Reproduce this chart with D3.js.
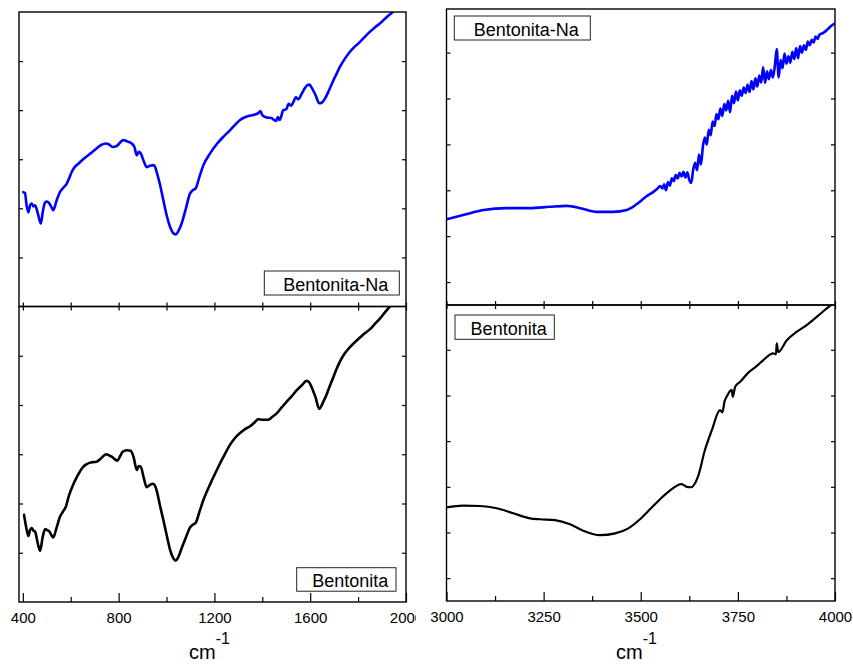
<!DOCTYPE html>
<html><head><meta charset="utf-8">
<script src="https://cdn.jsdelivr.net/npm/d3@7"></script>
<style>body{margin:0;background:#fff}svg{display:block;font-family:"Liberation Sans",Arial,sans-serif}</style>
</head><body><svg id="c" width="853" height="664"></svg>
<script>
// ---------- DATA ----------
const lowMajorTicks = [400, 800, 1200, 1600, 2000];
const lowMinorTicks = [600, 1000, 1400, 1800];
const highMajorTicks = [3000, 3250, 3500, 3750, 4000];
const highMinorTicks = [3125, 3375, 3625, 3875];
const lowYTicks = [10, 20, 30, 40, 50];
const highYTicks = [5, 15, 25, 35, 45, 55];
const seriesNames = ["Bentonita-Na", "Bentonita"];

// Bentonita-Na, 400-2000 cm-1
const naLowX = [402,409,416,423,430,437,444,451,463,475,484,493,501,509,518,527,541,555,569,583,594,604,618,632,652,673,690,708,727,747,760,775,792,806,820,838,855,866,876,884,892,905,917,931,945,952,959,973,987,1001,1015,1027,1038,1050,1063,1080,1098,1110,1122,1138,1154,1182,1210,1238,1265,1286,1307,1325,1342,1362,1383,1392,1400,1418,1437,1457,1465,1472,1488,1500,1510,1520,1530,1540,1550,1565,1578,1588,1597,1606,1622,1638,1650,1662,1680,1697,1710,1724,1745,1766,1787,1808,1829,1850,1871,1892,1920,1947,1975,2000];
const naLowY = [23.3,23.1,20.5,19.2,20.6,21.0,20.4,20.6,18.9,16.9,19.5,21.2,21.4,21.1,20.4,19.6,21.6,23.3,24.2,25.0,26.2,27.4,28.5,29.1,30.0,30.8,31.5,32.2,32.9,33.2,33.0,32.5,32.7,33.4,33.9,33.6,33.2,32.5,30.8,31.5,31.2,29.6,28.4,28.7,28.8,28.5,27.4,24.8,21.6,18.5,16.2,15.0,14.7,15.4,16.9,19.8,23.0,23.7,24.1,26.5,28.8,31.2,33.1,34.6,35.9,37.0,38.0,38.5,38.8,39.0,39.4,39.8,39.0,38.5,38.4,37.8,38.6,38.0,40.0,40.2,41.3,40.9,41.7,42.6,42.2,43.4,44.5,45.1,45.2,44.6,43.1,41.4,41.6,42.4,44.2,46.1,47.4,48.8,50.5,51.9,53.0,53.9,55.0,56.0,56.9,57.7,59.0,60.1,61.4,62.6];

// Bentonita, 400-2000 cm-1
const bLowX = [405,414,423,430,437,444,451,462,472,483,493,502,511,519,527,541,555,567,580,592,604,628,653,667,681,694,708,727,747,771,795,806,817,834,850,862,876,884,892,905,917,931,945,952,959,973,987,1001,1015,1027,1038,1050,1063,1080,1098,1110,1122,1138,1154,1182,1210,1238,1265,1286,1307,1328,1349,1366,1383,1404,1425,1442,1460,1481,1502,1523,1544,1565,1585,1596,1606,1622,1638,1654,1669,1683,1697,1710,1724,1743,1763,1785,1808,1829,1850,1871,1892,1912,1933,1966,2000];
const bLowY = [17.7,15.2,13.4,14.6,15.0,14.5,14.3,12.0,10.4,13.2,14.8,14.6,14.3,13.6,13.1,15.1,17.3,18.3,19.4,21.5,23.1,25.6,27.5,28.0,28.3,28.4,28.5,29.2,30.0,29.5,28.7,29.6,30.5,30.8,30.7,29.5,26.8,27.6,27.5,25.2,23.3,23.8,24.0,23.6,22.6,19.5,16.6,13.5,10.6,9.0,8.4,9.2,10.9,13.0,15.1,15.7,16.1,18.4,20.7,23.9,26.8,29.5,31.9,33.3,34.3,35.1,35.7,36.4,37.1,37.0,37.0,37.6,38.3,39.5,40.7,41.8,43.0,44.0,44.9,44.6,43.6,41.6,39.2,40.6,42.2,44.0,45.7,47.3,48.8,50.4,51.6,52.7,53.7,54.6,55.4,56.5,57.6,58.8,60.0,61.9,63.8];

// Bentonita-Na, 3000-4000 cm-1
const naHighX = [3000,3043,3095,3155,3215,3266,3309,3344,3387,3429,3464,3490,3515,3530,3541,3550,3556,3560,3565,3570,3575,3580,3585,3590,3595,3600,3605,3610,3615,3620,3625,3630,3635,3640,3645,3650,3655,3660,3665,3670,3675,3680,3685,3690,3695,3700,3705,3710,3715,3720,3725,3730,3735,3740,3745,3750,3755,3760,3765,3770,3775,3780,3785,3790,3795,3800,3805,3810,3815,3820,3825,3830,3835,3840,3845,3850,3855,3860,3865,3870,3875,3880,3885,3890,3895,3900,3905,3910,3915,3920,3925,3930,3935,3940,3945,3950,3955,3960,3970,3980,3990,4000];
const naHighY = [18.7,19.6,20.7,21.1,21.1,21.4,21.6,21.1,20.3,20.3,20.7,22.0,23.7,24.5,25.2,25.9,25.4,26.3,25.0,26.8,26.0,27.6,27.0,28.3,27.6,28.8,28.0,29.0,27.8,28.9,27.2,26.6,29.5,31.0,29.4,32.8,30.6,34.6,36.5,35.0,38.2,37.0,40.0,39.0,41.6,40.5,42.8,41.2,43.8,42.4,44.5,42.0,45.6,44.0,46.5,44.6,46.8,45.6,47.4,46.2,48.0,46.4,48.8,47.0,49.4,47.6,50.0,48.5,51.8,48.4,50.9,49.2,51.2,49.6,52.0,55.8,49.6,53.4,51.6,54.8,52.6,54.2,52.8,55.2,53.6,56.0,53.8,56.4,55.0,56.6,55.6,57.4,56.6,57.8,57.2,58.5,58.0,58.9,59.3,60.0,60.8,61.4];

// Bentonita, 3000-4000 cm-1
const bHighX = [3000,3043,3086,3129,3172,3215,3241,3279,3318,3352,3395,3434,3468,3498,3532,3571,3605,3618,3629,3648,3665,3683,3704,3710,3716,3721,3734,3737,3743,3756,3777,3798,3815,3841,3848,3850,3854,3876,3901,3927,3953,3987,4000];
const bHighY = [20.5,20.9,20.8,20.3,19.2,18.1,17.9,17.7,16.8,15.4,14.4,14.8,15.9,17.9,20.8,23.9,25.6,25.0,24.9,27.4,33.0,37.4,41.8,41.3,43.8,44.7,46.2,44.7,46.9,48.0,50.0,51.4,52.7,54.2,54.0,56.4,54.5,57.1,58.9,60.4,62.2,64.6,65.4];

// ---------- LAYOUT ----------
const svg = d3.select("#c");
const BLUE = "#0000ff", BLACK = "#000";

const panels = [
  {id:"tl", x0:19, x1:406, y0:12, y1:306.5, xd:[384,2000], yd:[0,60], xs:naLowX, ys:naLowY, color:BLUE, lw:2.6,
   major:lowMajorTicks, minor:lowMinorTicks, yt:lowYTicks, bottom:false, legend:{name:seriesNames[0], x:264.3, y:271, w:135, h:24}},
  {id:"bl", x0:19, x1:406, y0:306.5, y1:602, xd:[384,2000], yd:[0,60], xs:bLowX, ys:bLowY, color:BLACK, lw:2.6,
   major:lowMajorTicks, minor:lowMinorTicks, yt:lowYTicks, bottom:true, legend:{name:seriesNames[1], x:296.7, y:567.7, w:99.3, h:23.5}},
  {id:"tr", x0:446.5, x1:835, y0:9, y1:305, xd:[3000,4000], yd:[0,64.5], xs:naHighX, ys:naHighY, color:BLUE, lw:2.6,
   major:highMajorTicks, minor:highMinorTicks, yt:highYTicks, bottom:false, legend:{name:seriesNames[0], x:454.3, y:16, w:136, h:24}},
  {id:"br", x0:446.5, x1:835, y0:305, y1:601, xd:[3000,4000], yd:[0,64.8], xs:bHighX, ys:bHighY, color:BLACK, lw:2.2,
   major:highMajorTicks, minor:highMinorTicks, yt:highYTicks, bottom:true, legend:{name:seriesNames[1], x:455, y:315, w:99.3, h:24.3}}
];

function drawPanel(p, g) {
  const x = d3.scaleLinear().domain(p.xd).range([p.x0, p.x1]);
  const y = d3.scaleLinear().domain(p.yd).range([p.y1, p.y0]);
  const clipId = "clip-" + p.id;
  svg.append("clipPath").attr("id", clipId).append("rect")
    .attr("x", p.x0).attr("y", p.y0).attr("width", p.x1 - p.x0).attr("height", p.y1 - p.y0);
  const data = p.xs.map((v, i) => [v, p.ys[i]]);
  g.append("path").datum(data)
    .attr("clip-path", `url(#${clipId})`)
    .attr("fill", "none").attr("stroke", p.color).attr("stroke-width", p.lw)
    .attr("stroke-linejoin", "round").attr("stroke-linecap", "round")
    .attr("d", d3.line().x(d => x(d[0])).y(d => y(d[1])).curve(d3.curveMonotoneX));

  // y ticks inward on left and right
  const yLeft = d3.axisRight(y).tickValues(p.yt).tickSize(4).tickFormat("");
  const yRight = d3.axisLeft(y).tickValues(p.yt).tickSize(4).tickFormat("");
  g.append("g").attr("transform", `translate(${p.x0},0)`).call(yLeft).call(s => s.select(".domain").remove());
  g.append("g").attr("transform", `translate(${p.x1},0)`).call(yRight).call(s => s.select(".domain").remove());

  const allTicks = p.major.concat(p.minor);
  if (p.bottom) {
    g.append("g").attr("transform", `translate(0,${p.y0})`)
      .call(d3.axisBottom(x).tickValues(allTicks).tickSize(4).tickFormat(""))
      .call(s => s.select(".domain").remove());
    g.append("g").attr("transform", `translate(0,${p.y1})`)
      .call(d3.axisTop(x).tickValues(p.major).tickSize(9).tickFormat(""))
      .call(s => s.select(".domain").remove());
    g.append("g").attr("transform", `translate(0,${p.y1})`)
      .call(d3.axisTop(x).tickValues(p.minor).tickSize(5).tickFormat(""))
      .call(s => s.select(".domain").remove());
    const lab = g.append("g").attr("transform", `translate(0,${p.y1})`)
      .call(d3.axisBottom(x).tickValues(p.major).tickSize(0).tickPadding(0).tickFormat(d3.format("d")));
    lab.select(".domain").remove();
    lab.selectAll("text").attr("dy", null).attr("y", 21).attr("font-size", 15)
      .attr("font-family", '"Liberation Sans",Arial,sans-serif').attr("fill", "#000");
  } else {
    g.append("g").attr("transform", `translate(0,${p.y1})`)
      .call(d3.axisTop(x).tickValues(allTicks).tickSize(4).tickFormat(""))
      .call(s => s.select(".domain").remove());
  }
  g.selectAll(".tick line").attr("stroke", "#000").attr("stroke-width", 1.2);

  g.append("rect").attr("x", p.x0).attr("y", p.y0).attr("width", p.x1 - p.x0).attr("height", p.y1 - p.y0)
    .attr("fill", "none").attr("stroke", "#000").attr("stroke-width", 1.4);

  const L = p.legend;
  g.append("rect").attr("x", L.x).attr("y", L.y).attr("width", L.w).attr("height", L.h)
    .attr("fill", "#fff").attr("stroke", "#222").attr("stroke-width", 1);
  g.append("text").attr("x", L.x + L.w / 2 + 4).attr("y", L.y + L.h - 4.5).attr("text-anchor", "middle")
    .attr("font-size", 18).attr("fill", "#000").text(L.name);
}

const leftG = svg.append("g");
drawPanel(panels[0], leftG);
drawPanel(panels[1], leftG);
leftG.append("text").attr("x", 189).attr("y", 659).attr("font-size", 20)
  .text("cm").append("tspan").attr("dy", -15).attr("font-size", 16).text("-1");

const rightG = svg.append("g");
rightG.append("rect").attr("x", 416).attr("y", 0).attr("width", 853 - 416).attr("height", 664).attr("fill", "#fff");
drawPanel(panels[2], rightG);
drawPanel(panels[3], rightG);
rightG.append("text").attr("x", 616).attr("y", 659).attr("font-size", 20)
  .text("cm").append("tspan").attr("dy", -15).attr("font-size", 16).text("-1");
</script></body></html>
